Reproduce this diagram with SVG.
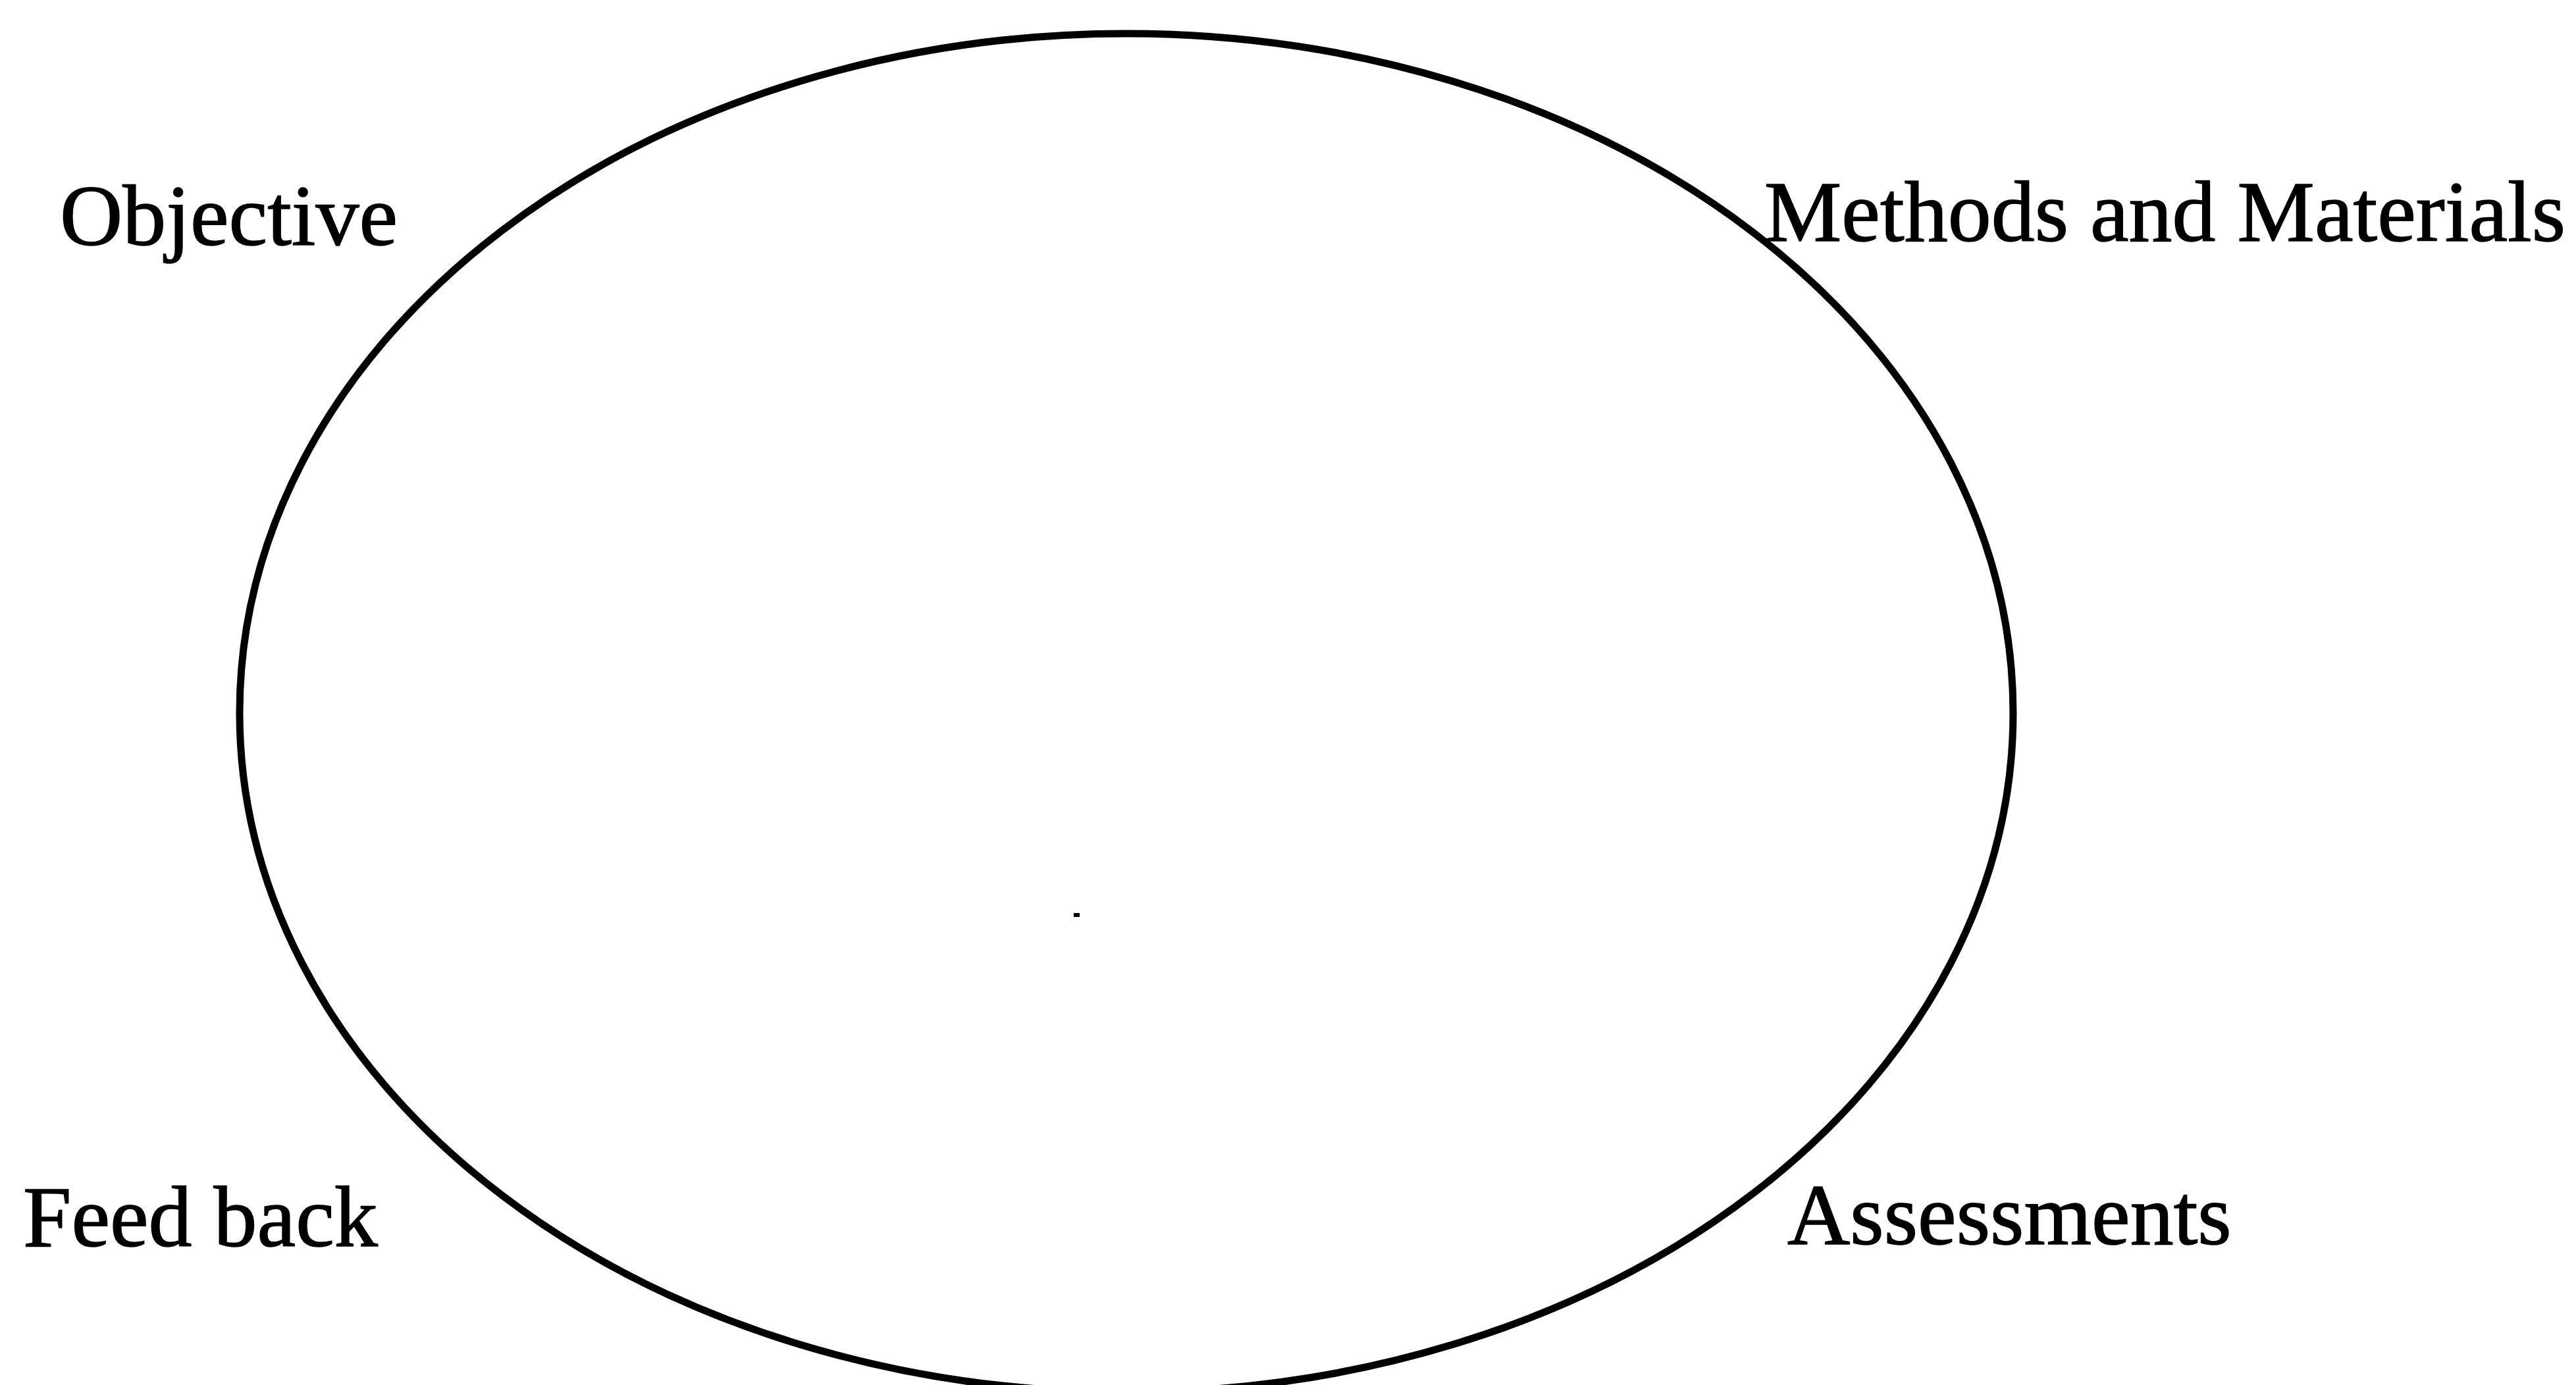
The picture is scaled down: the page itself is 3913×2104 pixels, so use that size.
<svg xmlns="http://www.w3.org/2000/svg" width="3913" height="2104" viewBox="0 0 3913 2104">
<style>
.lbl{font-family:"Liberation Serif","Times New Roman",serif;font-size:132px;fill:#000;stroke:#000;stroke-width:1.5}
.ring{fill:none;stroke:#000;stroke-width:11}
</style>
<rect width="3913" height="2104" fill="#fff"/>
<g id="cycle">
<ellipse class="ring" cx="1711" cy="1083" rx="1347" ry="1032"/>
<rect x="1631" y="1387" width="9" height="6" fill="#000"/>
</g>
<g id="objective"><text class="lbl" x="91" y="372">Objective</text></g>
<g id="methods"><text class="lbl" x="2680" y="366">Methods and Materials</text></g>
<g id="assessments"><text class="lbl" x="2715" y="1890">Assessments</text></g>
<g id="feedback"><text class="lbl" x="35" y="1893">Feed back</text></g>
<g id="connectors"></g>
</svg>
